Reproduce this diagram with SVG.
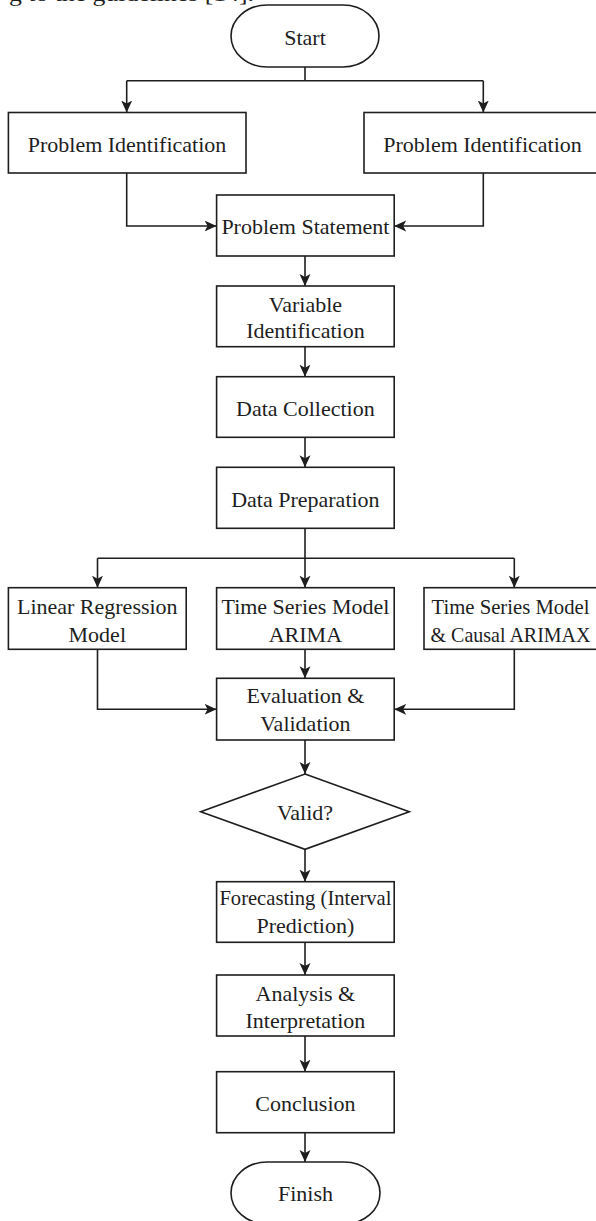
<svg xmlns="http://www.w3.org/2000/svg" width="596" height="1221" viewBox="0 0 596 1221">
  <defs>
    <style>
      .box { fill: #ffffff; stroke: #1e1e1e; stroke-width: 1.6; }
      .conn { fill: none; stroke: #1e1e1e; stroke-width: 1.6; }
      .lbl { font-family: "Liberation Serif", "Times New Roman", serif; font-size: 22px; fill: #1e1e1e; text-anchor: middle; }
      .top { font-family: "Liberation Serif", "Times New Roman", serif; font-size: 22px; fill: #1e1e1e; }
    </style>
    <marker id="arrow" markerUnits="userSpaceOnUse" markerWidth="14" markerHeight="12" refX="12" refY="6" orient="auto">
      <path d="M0,0.5 L12,6 L0,11.5 L3,6 z" fill="#1e1e1e"/>
    </marker>
  </defs>
  <rect x="0" y="0" width="596" height="1221" fill="#ffffff"/>

  <text class="top" x="9" y="0.5" textLength="245" lengthAdjust="spacingAndGlyphs">g to the guidelines [14].</text>

  <g id="connectors">
    <path class="conn" d="M305,67 V80.7"/>
    <path class="conn" d="M126.7,80.7 H483.3"/>
    <path class="conn" d="M126.7,80.7 V112.5" marker-end="url(#arrow)"/>
    <path class="conn" d="M483.3,80.7 V112.5" marker-end="url(#arrow)"/>
    <path class="conn" d="M126.7,173 V226 H216.6" marker-end="url(#arrow)"/>
    <path class="conn" d="M483.3,173 V226 H394.2" marker-end="url(#arrow)"/>
    <path class="conn" d="M305,256 V286" marker-end="url(#arrow)"/>
    <path class="conn" d="M305,346.7 V376.7" marker-end="url(#arrow)"/>
    <path class="conn" d="M305,437.3 V467.3" marker-end="url(#arrow)"/>
    <path class="conn" d="M305,528.3 V558.3"/>
    <path class="conn" d="M97.5,558.3 H514.3"/>
    <path class="conn" d="M97.5,558.3 V587.7" marker-end="url(#arrow)"/>
    <path class="conn" d="M305,558.3 V587.7" marker-end="url(#arrow)"/>
    <path class="conn" d="M514.3,558.3 V587.7" marker-end="url(#arrow)"/>
    <path class="conn" d="M305,649.3 V678.3" marker-end="url(#arrow)"/>
    <path class="conn" d="M97.5,649.3 V709.3 H216.6" marker-end="url(#arrow)"/>
    <path class="conn" d="M514.3,649.3 V709.3 H394.2" marker-end="url(#arrow)"/>
    <path class="conn" d="M305,740 V774" marker-end="url(#arrow)"/>
    <path class="conn" d="M305,849.3 V881.7" marker-end="url(#arrow)"/>
    <path class="conn" d="M305,942.3 V975" marker-end="url(#arrow)"/>
    <path class="conn" d="M305,1036 V1071.7" marker-end="url(#arrow)"/>
    <path class="conn" d="M305,1132.7 V1162" marker-end="url(#arrow)"/>
  </g>

  <g id="start">
    <rect class="box" x="231" y="5" width="148" height="62" rx="36" ry="31"/>
    <text class="lbl" x="305" y="44.5">Start</text>
  </g>
  <g id="problem-identification-left">
    <rect class="box" x="8.4" y="112.5" width="237.6" height="60.5"/>
    <text class="lbl" x="127" y="151.7">Problem Identification</text>
  </g>
  <g id="problem-identification-right">
    <rect class="box" x="364" y="112.5" width="238.6" height="60.5"/>
    <text class="lbl" x="482.5" y="151.7">Problem Identification</text>
  </g>
  <g id="problem-statement">
    <rect class="box" x="216.6" y="195" width="177.6" height="61"/>
    <text class="lbl" x="305.4" y="234">Problem Statement</text>
  </g>
  <g id="variable-identification">
    <rect class="box" x="216.6" y="286" width="177.6" height="60.7"/>
    <text class="lbl" x="305.4" y="311.7">Variable</text>
    <text class="lbl" x="305.4" y="338.3">Identification</text>
  </g>
  <g id="data-collection">
    <rect class="box" x="216.6" y="376.7" width="177.6" height="60.6"/>
    <text class="lbl" x="305.4" y="415.7">Data Collection</text>
  </g>
  <g id="data-preparation">
    <rect class="box" x="216.6" y="467.3" width="177.6" height="61"/>
    <text class="lbl" x="305.4" y="506.7">Data Preparation</text>
  </g>
  <g id="linear-regression">
    <rect class="box" x="8.4" y="587.7" width="177.8" height="61.6"/>
    <text class="lbl" x="97.3" y="614">Linear Regression</text>
    <text class="lbl" x="97.3" y="641.7">Model</text>
  </g>
  <g id="arima">
    <rect class="box" x="216.6" y="587.7" width="177.6" height="61.6"/>
    <text class="lbl" x="305.4" y="614">Time Series Model</text>
    <text class="lbl" x="305.4" y="641.7">ARIMA</text>
  </g>
  <g id="arimax">
    <rect class="box" x="424" y="587.7" width="180.6" height="61.6"/>
    <text class="lbl" x="510.5" y="614" textLength="158" lengthAdjust="spacingAndGlyphs">Time Series Model</text>
    <text class="lbl" x="510.5" y="641.7" textLength="160" lengthAdjust="spacingAndGlyphs">&amp; Causal ARIMAX</text>
  </g>
  <g id="evaluation-validation">
    <rect class="box" x="216.6" y="678.3" width="177.6" height="61.7"/>
    <text class="lbl" x="305.4" y="703">Evaluation &amp;</text>
    <text class="lbl" x="305.4" y="730.7">Validation</text>
  </g>
  <g id="valid">
    <polygon class="box" points="305,774 409.3,811.7 305,849.3 200.7,811.7"/>
    <text class="lbl" x="305" y="820">Valid?</text>
  </g>
  <g id="forecasting">
    <rect class="box" x="216.6" y="881.7" width="177.6" height="60.6"/>
    <text class="lbl" x="305.4" y="904.5" textLength="172" lengthAdjust="spacingAndGlyphs">Forecasting (Interval</text>
    <text class="lbl" x="305.4" y="932.5">Prediction)</text>
  </g>
  <g id="analysis-interpretation">
    <rect class="box" x="216.6" y="975" width="177.6" height="61"/>
    <text class="lbl" x="305.4" y="1000.7">Analysis &amp;</text>
    <text class="lbl" x="305.4" y="1027.7">Interpretation</text>
  </g>
  <g id="conclusion">
    <rect class="box" x="216.6" y="1071.7" width="177.6" height="61"/>
    <text class="lbl" x="305.4" y="1110.7">Conclusion</text>
  </g>
  <g id="finish">
    <rect class="box" x="231" y="1162" width="149" height="62" rx="36" ry="31"/>
    <text class="lbl" x="305.5" y="1201">Finish</text>
  </g>
</svg>
